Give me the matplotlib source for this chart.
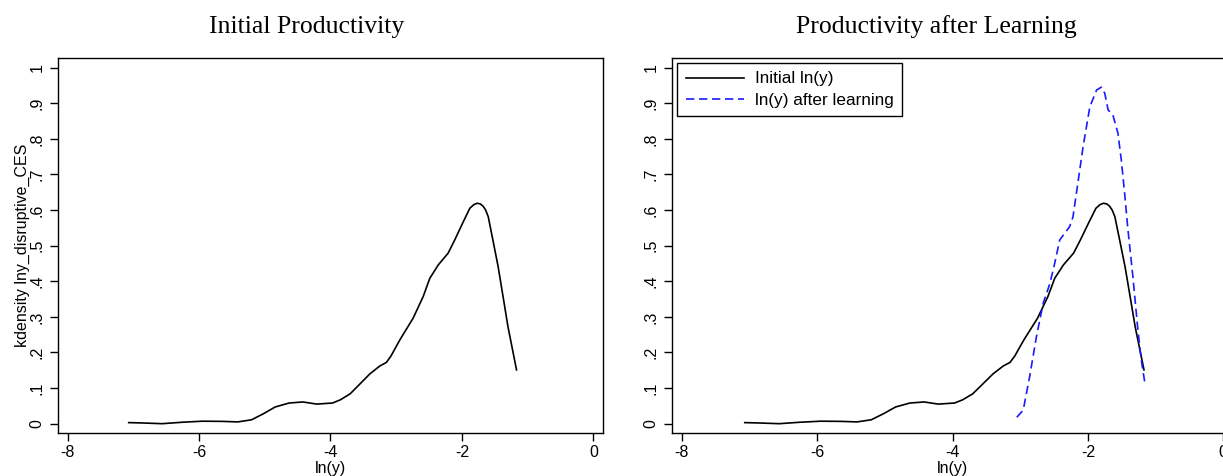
import matplotlib
matplotlib.use("Agg")
import matplotlib.pyplot as plt

# ---- data ----
init_x = [-7.07, -6.86, -6.56, -6.26, -5.95, -5.65, -5.41, -5.20, -5.02, -4.84,
          -4.63, -4.42, -4.21, -3.97, -3.85, -3.70, -3.55, -3.40, -3.25, -3.15,
          -3.08, -2.946, -2.744, -2.59, -2.49, -2.36, -2.21, -2.11, -1.98, -1.88,
          -1.82, -1.77, -1.72, -1.68, -1.64, -1.60, -1.53, -1.45, -1.375, -1.30,
          -1.23, -1.17]
init_y = [0.003, 0.002, 0.000, 0.004, 0.007, 0.0065, 0.005, 0.011, 0.028, 0.047,
          0.058, 0.061, 0.055, 0.058, 0.067, 0.084, 0.112, 0.140, 0.162, 0.172,
          0.190, 0.235, 0.296, 0.357, 0.408, 0.446, 0.479, 0.516, 0.567, 0.605,
          0.615, 0.619, 0.617, 0.611, 0.600, 0.581, 0.516, 0.441, 0.357, 0.272,
          0.207, 0.151]

learn_x = [-3.05, -2.955, -2.86, -2.76, -2.66, -2.56, -2.49, -2.415, -2.34, -2.27,
           -2.22, -2.14, -2.07, -1.97, -1.87, -1.80, -1.75, -1.70, -1.63, -1.555,
           -1.505, -1.456, -1.41, -1.335, -1.26, -1.21, -1.16]
learn_y = [0.018, 0.038, 0.132, 0.244, 0.338, 0.394, 0.450, 0.516, 0.535, 0.553,
           0.580, 0.685, 0.778, 0.890, 0.937, 0.945, 0.928, 0.881, 0.867, 0.816,
           0.740, 0.647, 0.550, 0.415, 0.263, 0.179, 0.118]

x_ticks = [-8, -6, -4, -2, 0]
x_tick_labels = ["-8", "-6", "-4", "-2", "0"]
y_ticks = [0, 0.1, 0.2, 0.3, 0.4, 0.5, 0.6, 0.7, 0.8, 0.9, 1.0]
y_tick_labels = ["0", ".1", ".2", ".3", ".4", ".5", ".6", ".7", ".8", ".9", "1"]

titles = ["Initial Productivity", "Productivity after Learning"]
xlabel = "ln(y)"
ylabel = "kdensity lny_disruptive_CES"
legend_labels = ["Initial ln(y)", "ln(y) after learning"]

# ---- figure ----
W, H = 1223, 476
fig = plt.figure(figsize=(W / 100, H / 100), dpi=100)
fig.patch.set_facecolor("white")

sans = ["Liberation Sans", "DejaVu Sans"]
serif = ["Liberation Serif", "DejaVu Serif"]
fs = 11.5

def px_rect(l, r, t, b):
    return [l / W, (H - b) / H, (r - l) / W, (b - t) / H]

ax1 = fig.add_axes(px_rect(57.7, 603.3, 58.3, 433.3))
ax2 = fig.add_axes(px_rect(671.7, 1233.3, 58.3, 433.3))

blue = "#1a1aff"
for ax in (ax1, ax2):
    ax.set_xlim(-8.15, 0.15)
    ax.set_ylim(-0.027, 1.026)
    ax.set_xticks(x_ticks)
    ax.set_xticklabels(x_tick_labels, fontsize=fs, family=sans)
    ax.set_yticks(y_ticks)
    ax.set_yticklabels(y_tick_labels, fontsize=fs, family=sans,
                       rotation=90, va="center")
    ax.tick_params(direction="out", length=5.5, width=1.0, color="black",
                   pad=3)
    ax.tick_params(axis="y", pad=4)
    for s in ax.spines.values():
        s.set_linewidth(1.0)
        s.set_color("black")
    ax.set_xlabel(xlabel, fontsize=fs, family=sans, labelpad=1)

ax1.plot(init_x, init_y, color="black", lw=1.2, solid_joinstyle="round")
ax1.set_ylabel(ylabel, fontsize=fs, family=sans, labelpad=0)

ax2.plot(init_x, init_y, color="black", lw=1.2, solid_joinstyle="round",
         label=legend_labels[0])
ax2.plot(learn_x, learn_y, color=blue, lw=1.2, dashes=(5.0, 2.8),
         label=legend_labels[1])

leg = ax2.legend(loc="upper left",
                 bbox_to_anchor=(0.010, 0.0, 0.3996, 0.9867),
                 mode="expand", prop={"family": sans, "size": 12.3},
                 frameon=True, fancybox=False, framealpha=1,
                 edgecolor="black", handlelength=3.4, handletextpad=0.65,
                 labelspacing=0.38, borderpad=0.48, borderaxespad=0)
leg.get_frame().set_linewidth(1.0)

fig.text(307 / W, 1 - 33 / H, titles[0], family=serif, fontsize=18.5,
         ha="center", va="baseline")
fig.text(936 / W, 1 - 33 / H, titles[1], family=serif, fontsize=18.5,
         ha="center", va="baseline")

fig.savefig("out.png", dpi=100, facecolor="white")
